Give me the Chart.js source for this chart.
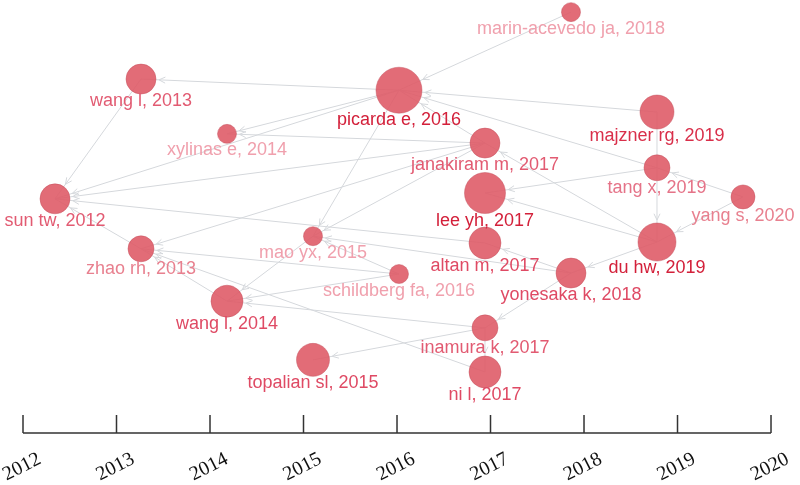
<!DOCTYPE html>
<html>
<head>
<meta charset="utf-8">
<script src="https://cdn.jsdelivr.net/npm/chart.js@4.4.0/dist/chart.umd.min.js"></script>
<style>
  html, body { margin: 0; padding: 0; background: #fff; }
  #wrap { width: 800px; height: 485px; }
</style>
</head>
<body>
<div id="wrap"><canvas id="histChart"></canvas></div>
<script>
// papers in the historiograph
const papers = [
  "sun tw, 2012", "wang l, 2013", "zhao rh, 2013", "xylinas e, 2014", "wang l, 2014",
  "mao yx, 2015", "topalian sl, 2015", "picarda e, 2016", "schildberg fa, 2016",
  "janakiram m, 2017", "lee yh, 2017", "altan m, 2017", "inamura k, 2017", "ni l, 2017",
  "marin-acevedo ja, 2018", "yonesaka k, 2018", "majzner rg, 2019", "tang x, 2019",
  "du hw, 2019", "yang s, 2020"
];
const years = [2012, 2013, 2013, 2014, 2014, 2015, 2015, 2016, 2016,
  2017, 2017, 2017, 2017, 2017, 2018, 2018, 2019, 2019, 2019, 2020];
// vertical layout position of each node (percent from top)
const rows = [41.0, 16.3, 51.3, 27.6, 62.1, 48.7, 74.2, 18.6, 56.5,
  29.5, 39.8, 50.1, 67.6, 76.7, 2.5, 56.3, 23.1, 34.6, 49.9, 40.6];
// node size (local citation weight)
const weights = [15, 15, 13, 9.5, 16, 9.5, 16.5, 23, 9.5,
  15, 20.5, 16, 13, 16, 9.5, 15, 17, 13, 19, 12];
// citing -> cited
const links = [
  ["marin-acevedo ja, 2018", "picarda e, 2016"],
  ["majzner rg, 2019", "picarda e, 2016"],
  ["tang x, 2019", "picarda e, 2016"],
  ["janakiram m, 2017", "picarda e, 2016"],
  ["picarda e, 2016", "wang l, 2013"],
  ["picarda e, 2016", "xylinas e, 2014"],
  ["picarda e, 2016", "sun tw, 2012"],
  ["picarda e, 2016", "mao yx, 2015"],
  ["wang l, 2013", "sun tw, 2012"],
  ["janakiram m, 2017", "sun tw, 2012"],
  ["altan m, 2017", "sun tw, 2012"],
  ["zhao rh, 2013", "sun tw, 2012"],
  ["janakiram m, 2017", "xylinas e, 2014"],
  ["janakiram m, 2017", "zhao rh, 2013"],
  ["janakiram m, 2017", "mao yx, 2015"],
  ["schildberg fa, 2016", "zhao rh, 2013"],
  ["wang l, 2014", "zhao rh, 2013"],
  ["ni l, 2017", "zhao rh, 2013"],
  ["mao yx, 2015", "wang l, 2014"],
  ["schildberg fa, 2016", "wang l, 2014"],
  ["inamura k, 2017", "wang l, 2014"],
  ["schildberg fa, 2016", "mao yx, 2015"],
  ["yonesaka k, 2018", "mao yx, 2015"],
  ["inamura k, 2017", "topalian sl, 2015"],
  ["inamura k, 2017", "ni l, 2017"],
  ["tang x, 2019", "lee yh, 2017"],
  ["du hw, 2019", "lee yh, 2017"],
  ["yonesaka k, 2018", "altan m, 2017"],
  ["majzner rg, 2019", "du hw, 2019"],
  ["yang s, 2020", "tang x, 2019"],
  ["yang s, 2020", "du hw, 2019"],
  ["du hw, 2019", "yonesaka k, 2018"],
  ["yonesaka k, 2018", "inamura k, 2017"],
  ["du hw, 2019", "janakiram m, 2017"]
];
const yearTicks = [2012, 2013, 2014, 2015, 2016, 2017, 2018, 2019, 2020];

// label shades
const labelColor = {
  "picarda e, 2016": "#d3203a", "lee yh, 2017": "#d3203a", "du hw, 2019": "#d3203a",
  "majzner rg, 2019": "#d92f4a",
  "wang l, 2014": "#df4a64", "ni l, 2017": "#df4a64", "topalian sl, 2015": "#df4a64",
  "yonesaka k, 2018": "#df4a64", "altan m, 2017": "#df4a64",
  "wang l, 2013": "#e25b72", "sun tw, 2012": "#e25b72", "janakiram m, 2017": "#e25b72",
  "inamura k, 2017": "#e25b72",
  "zhao rh, 2013": "#e8808f", "tang x, 2019": "#e57388", "yang s, 2020": "#e8808f"
};
const lightLabel = "#f0a0ad";

const historiograph = {
  id: "historiograph",
  beforeDatasetsDraw(chart) {
    const ctx = chart.ctx, xs = chart.scales.x, ys = chart.scales.y;
    ctx.save();
    ctx.strokeStyle = "#d5d8dc";
    ctx.lineWidth = 1;
    links.forEach(([from, to]) => {
      const i = papers.indexOf(from), j = papers.indexOf(to);
      const x1 = xs.getPixelForValue(years[i]), y1 = ys.getPixelForValue(rows[i]);
      const x2 = xs.getPixelForValue(years[j]), y2 = ys.getPixelForValue(rows[j]);
      ctx.beginPath();
      ctx.moveTo(x1, y1);
      ctx.lineTo(x2, y2);
      ctx.stroke();
      const ang = Math.atan2(y2 - y1, x2 - x1);
      const d = weights[j] + 3;
      const ax = x2 - Math.cos(ang) * d, ay = y2 - Math.sin(ang) * d;
      ctx.beginPath();
      ctx.moveTo(ax - 7 * Math.cos(ang - 0.45), ay - 7 * Math.sin(ang - 0.45));
      ctx.lineTo(ax, ay);
      ctx.lineTo(ax - 7 * Math.cos(ang + 0.45), ay - 7 * Math.sin(ang + 0.45));
      ctx.stroke();
    });
    ctx.restore();
  },
  afterDatasetsDraw(chart) {
    const ctx = chart.ctx, xs = chart.scales.x, ys = chart.scales.y;
    ctx.save();
    ctx.font = "18px 'Liberation Sans', Arial, sans-serif";
    ctx.textAlign = "center";
    ctx.textBaseline = "alphabetic";
    papers.forEach((p, i) => {
      ctx.fillStyle = labelColor[p] || lightLabel;
      ctx.fillText(p, xs.getPixelForValue(years[i]), ys.getPixelForValue(rows[i]) + weights[i] + 12);
    });
    ctx.restore();
  },
  afterDraw(chart) {
    const ctx = chart.ctx, ts = chart.scales.timeline;
    const axisY = 433;
    ctx.save();
    ctx.strokeStyle = "#333";
    ctx.lineWidth = 1.5;
    ctx.beginPath();
    ctx.moveTo(ts.getPixelForValue(yearTicks[0]), axisY);
    ctx.lineTo(ts.getPixelForValue(yearTicks[yearTicks.length - 1]), axisY);
    yearTicks.forEach(t => {
      const px = ts.getPixelForValue(t);
      ctx.moveTo(px, axisY);
      ctx.lineTo(px, axisY - 18);
    });
    ctx.stroke();
    ctx.fillStyle = "#111";
    ctx.font = "20px 'Liberation Serif', 'Times New Roman', serif";
    ctx.textAlign = "center";
    ctx.textBaseline = "middle";
    yearTicks.forEach(t => {
      ctx.save();
      ctx.translate(ts.getPixelForValue(t) - 1, axisY + 34);
      ctx.rotate(-27 * Math.PI / 180);
      ctx.fillText(String(t), 0, 0);
      ctx.restore();
    });
    ctx.restore();
  }
};

const ctx = document.getElementById("histChart").getContext("2d");
new Chart(ctx, {
  type: "bubble",
  data: {
    datasets: [{
      data: papers.map((p, i) => ({ x: years[i], y: rows[i], r: weights[i] })),
      backgroundColor: "rgba(223, 92, 104, 0.9)",
      borderColor: "rgba(196, 78, 90, 0.45)",
      borderWidth: 1,
      clip: false
    }]
  },
  options: {
    responsive: true,
    maintainAspectRatio: false,
    animation: false,
    events: [],
    layout: { padding: 0, autoPadding: false },
    plugins: { legend: { display: false }, tooltip: { enabled: false } },
    scales: {
      x: { type: "linear", display: false, min: 2011.3605, max: 2020.6628 },
      y: { type: "linear", display: false, reverse: true, min: 0, max: 100 },
      timeline: { type: "linear", axis: "x", display: false, min: 2011.754, max: 2020.310 }
    }
  },
  plugins: [historiograph]
});
</script>
</body>
</html>
